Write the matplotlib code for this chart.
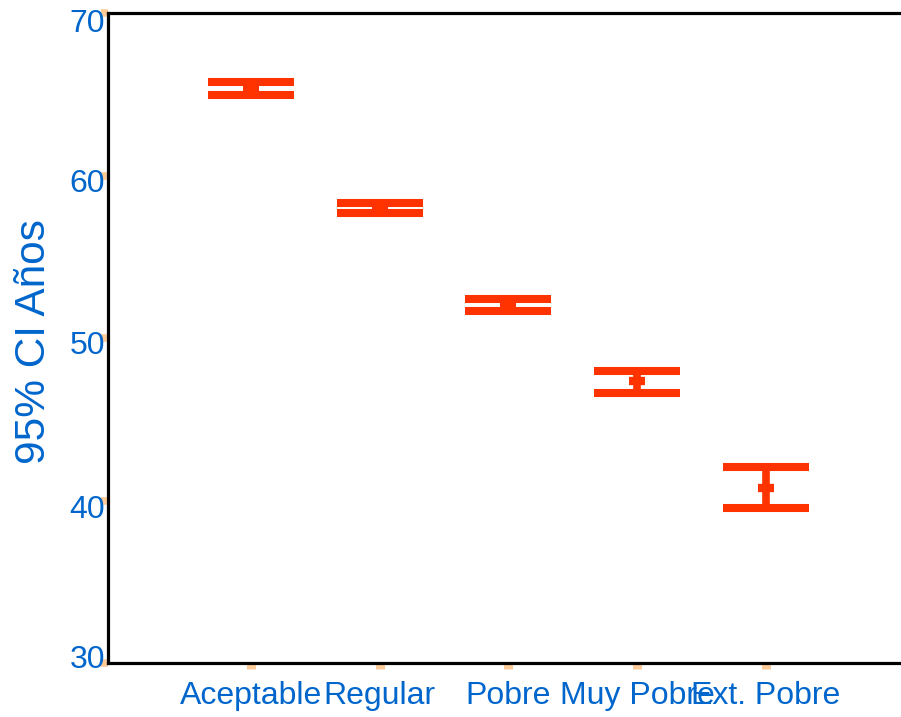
import matplotlib
matplotlib.use("Agg")
import matplotlib.pyplot as plt
import matplotlib.transforms as mtransforms
import numpy as np

categories = ["Aceptable", "Regular", "Pobre", "Muy Pobre", "Ext. Pobre"]
means = [65.35, 58.03, 52.0, 47.35, 40.8]
lower = [64.95, 57.69, 51.66, 46.6, 39.54]
upper = [65.75, 58.31, 52.37, 48.0, 42.08]
yticks = [30, 40, 50, 60, 70]

plt.rcParams['font.family'] = ['Liberation Sans', 'DejaVu Sans']
blue = '#0066CC'
red = '#FF3300'
tickc = '#FFCC99'

fig = plt.figure(figsize=(9.01, 7.17), dpi=100)
ax = fig.add_axes([108/901, 1-663/717, 1-108/901, (663-13)/717])

x = np.arange(len(categories))
m = np.array(means)
yerr = np.vstack([m - np.array(lower), np.array(upper) - m])
ax.errorbar(x, m, yerr=yerr, fmt='none', ecolor=red, elinewidth=5.5,
            capsize=31, capthick=5.8, zorder=3)
ax.plot(x, m, linestyle='none', marker='_', markersize=11.5, mew=6,
        color=red, zorder=4)

ax.set_ylim(30, 70)
ax.set_xlim(-1.111, 5.05)
ax.set_yticks(yticks)
ax.set_xticks(x)
ax.set_xticklabels(categories)

for s in ['left', 'bottom', 'top']:
    ax.spines[s].set_linewidth(2.3)
    ax.spines[s].set_color('black')
ax.spines['right'].set_visible(False)

ax.tick_params(axis='y', direction='out', length=5, width=5.5, color=tickc,
               labelcolor=blue, labelsize=23, pad=-3)
ax.tick_params(axis='x', direction='out', length=4, width=6.5, color=tickc,
               labelcolor=blue, labelsize=23, pad=9)

# small vertical offsets of y tick labels as in the reference (pixels, down positive)
offs = {30: -7, 40: 5.5, 50: 5, 60: 5, 70: 7.5}
for lab, v in zip(ax.get_yticklabels(), yticks):
    dy = -offs[v] / 100.0
    lab.set_transform(lab.get_transform() +
                      mtransforms.ScaledTranslation(0, dy, fig.dpi_scale_trans))

ax.set_ylabel("95% CI Años", color=blue, fontsize=30.5)
ax.yaxis.set_label_coords(-0.068, 0.494)

fig.savefig("out.png", dpi=100)
